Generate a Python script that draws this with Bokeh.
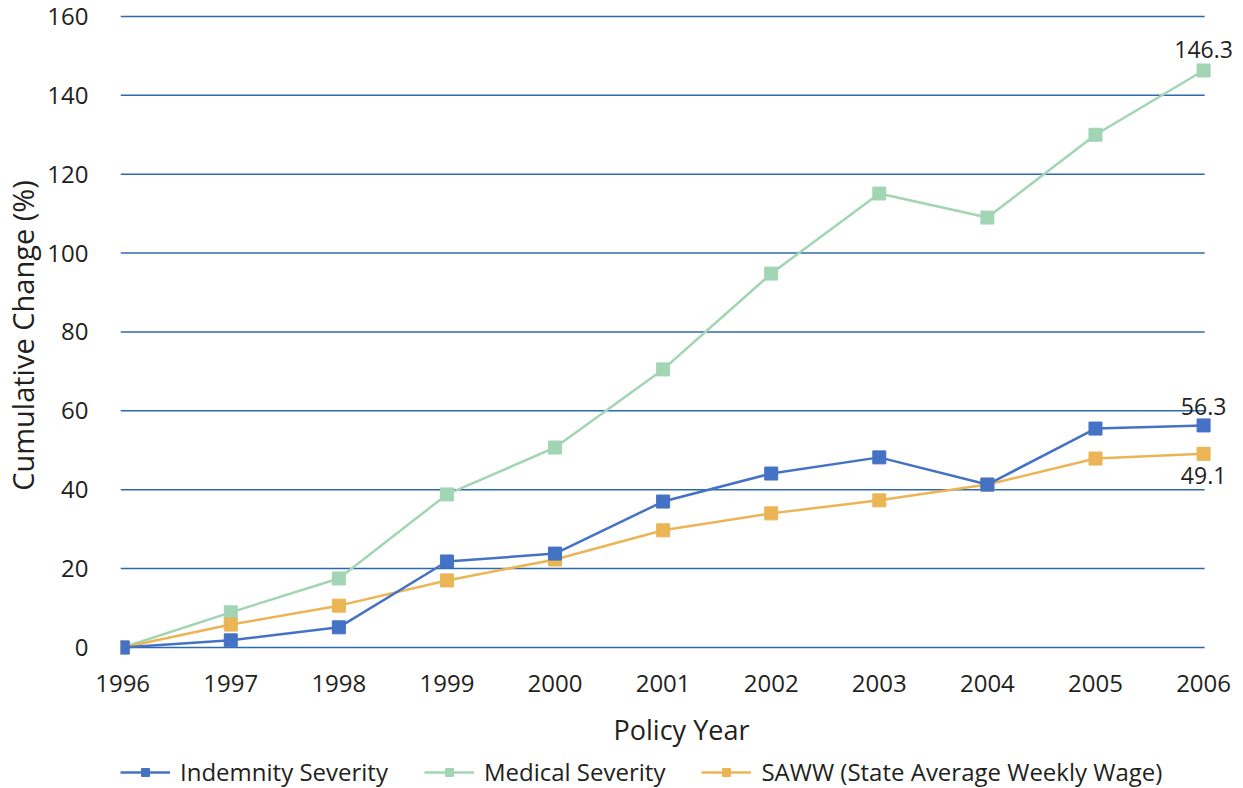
from bokeh.plotting import figure
from bokeh.layouts import column
from bokeh.models import Range1d, FixedTicker, Legend, LegendItem, Label
from bokeh.embed import file_html
from bokeh.resources import INLINE

years = [1996, 1997, 1998, 1999, 2000, 2001, 2002, 2003, 2004, 2005, 2006]
indemnity = [0, 1.8, 5.1, 21.8, 23.8, 37.0, 44.1, 48.2, 41.3, 55.5, 56.3]
medical = [0, 8.9, 17.5, 38.8, 50.7, 70.5, 94.8, 115.1, 109.0, 130.0, 146.3]
saww = [0, 5.8, 10.6, 17.0, 22.3, 29.7, 34.0, 37.3, 41.3, 47.9, 49.1]
y_ticks = [0, 20, 40, 60, 80, 100, 120, 140, 160]
names = ["Indemnity Severity", "Medical Severity", "SAWW (State Average Weekly Wage)"]

FONT = "Open Sans"
TXT = "#231f20"
C_IND = "#4472c4"
C_MED = "#a2d5b3"
C_SAW = "#ebb454"
C_GRID = "#2e68ad"
colors = {names[0]: C_IND, names[1]: C_MED, names[2]: C_SAW}
values = {names[0]: indemnity, names[1]: medical, names[2]: saww}

p = figure(frame_width=1122, frame_height=646, output_backend="svg", toolbar_location=None,
           x_range=Range1d(1995.98, 2006.36), y_range=Range1d(-2.8, 161))
p.min_border_left = 118
p.min_border_right = 3
p.min_border_top = 12
p.min_border_bottom = 96
p.outline_line_color = None
p.background_fill_color = "white"

p.xgrid.grid_line_color = None
p.ygrid.grid_line_color = None
p.yaxis.ticker = FixedTicker(ticks=y_ticks)
p.xaxis.ticker = FixedTicker(ticks=years)

# horizontal gridlines spanning the year range
p.segment(x0=[years[0] - 0.02] * len(y_ticks), x1=[years[-1] + 0.01] * len(y_ticks),
          y0=y_ticks, y1=y_ticks, line_color=C_GRID, line_width=1.5)

for ax in (p.xaxis[0], p.yaxis[0]):
    ax.axis_line_color = None
    ax.major_tick_line_color = None
    ax.minor_tick_line_color = None
    ax.major_label_text_font = FONT
    ax.major_label_text_font_size = "24px"
    ax.major_label_text_color = TXT
    ax.axis_label_text_font = FONT
    ax.axis_label_text_font_style = "normal"
    ax.axis_label_text_color = TXT
    ax.axis_label_text_font_size = "27px"

p.yaxis.major_label_standoff = 26
p.yaxis.axis_label = "Cumulative Change (%)"
p.yaxis.axis_label_standoff = 2
p.yaxis.axis_label_text_font_size = "29px"
p.xaxis.major_label_standoff = 10
p.xaxis.axis_label = "Policy Year"
p.xaxis.axis_label_standoff = 16

for name in [names[1], names[2], names[0]]:
    col = colors[name]
    p.line(years, values[name], line_color=col, line_width=2.5)
    p.scatter(years, values[name], marker="square", size=13, fill_color=col, line_color=col)

lab_style = dict(text_font=FONT, text_font_size="23px", text_color=TXT, text_align="center")
p.add_layout(Label(x=years[-1], y=medical[-1], text=f"{medical[-1]:.1f}", y_offset=12,
                   text_baseline="bottom", **lab_style))
p.add_layout(Label(x=years[-1], y=indemnity[-1], text=f"{indemnity[-1]:.1f}", y_offset=10,
                   text_baseline="bottom", **lab_style))
p.add_layout(Label(x=years[-1], y=saww[-1], text=f"{saww[-1]:.1f}", y_offset=-13,
                   text_baseline="top", **lab_style))

# legend strip below the chart (its proxy glyphs lie outside its view range)
lg = figure(width=1243, height=34, output_backend="svg", toolbar_location=None,
            x_range=Range1d(0, 1), y_range=Range1d(0, 1), min_border=0)
lg.axis.visible = False
lg.grid.grid_line_color = None
lg.outline_line_color = None
items = []
for name in names:
    col = colors[name]
    l = lg.line(years, values[name], line_color=col, line_width=2.5)
    s = lg.scatter(years, values[name], marker="square", size=13, fill_color=col, line_color=col)
    items.append(LegendItem(label=name, renderers=[l, s]))
legend = Legend(items=items, orientation="horizontal", location=(0, 0),
                border_line_color=None, background_fill_alpha=0,
                label_text_font=FONT, label_text_font_size="24px", label_text_color=TXT,
                glyph_width=50, glyph_height=20, label_standoff=10, spacing=36,
                padding=0, margin=0)
lg.add_layout(legend, "center")

open("out.html", "w").write(file_html(column(p, lg), INLINE))
